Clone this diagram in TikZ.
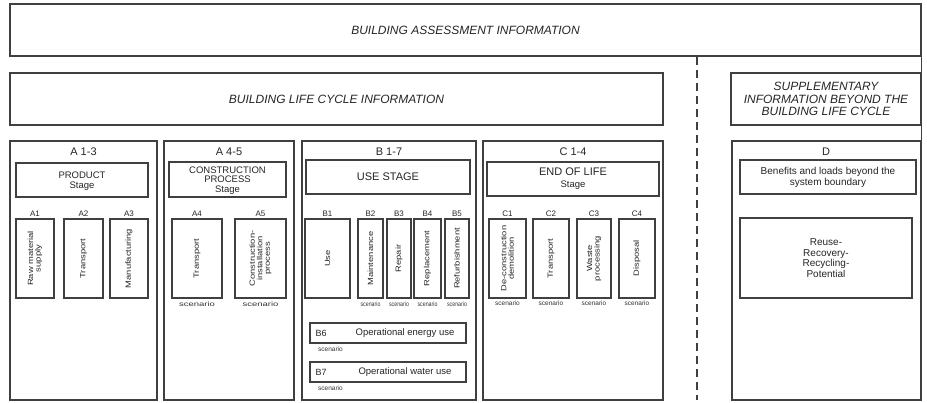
\documentclass[tikz,border=0pt]{standalone}
\usepackage{fontspec}
\usepackage{graphicx}
\setmainfont{Liberation Sans}
\newfontfamily\rotfont[FakeStretch=1.25]{Liberation Sans}
\newcommand\fs[1]{\fontsize{#1}{#1}\selectfont}
\newcommand\bx[7]{\node[#6, minimum width={(#4-#2)*1pt}, minimum height={(#5-#3)*1pt}] (#1) at ({(#2+#4)/2},{(#3+#5)/2}) {#7};}
\newcommand\scen[1]{\scalebox{#1}[1.3]{scenario}}
\begin{document}
\begin{tikzpicture}[x=1pt,y=-1pt,
  box/.style={draw=black!75, line width=1.1pt, inner sep=0pt, align=center, text=black!85},
  outerbox/.style={box},
  stagebox/.style={box, font=\fs{9.5}, text depth=0pt},
  smallbox/.style={box},
  rottext/.style={rotate=90, font=\rotfont\fs{7.5}, align=center, inner sep=0pt, text=black!85},
  hdr/.style={font=\fs{11}, inner sep=0pt, text=black!85},
  lbl/.style={font=\fs{8}, inner sep=0pt, anchor=base, text=black!85},
  sc/.style={font=\fs{5}, inner sep=0pt, text=black!80},
  dashline/.style={draw=black!75, line width=1.1pt, dash pattern=on 8pt off 5pt},
  plainline/.style={draw=black!75, line width=1.1pt}]
\useasboundingbox[fill=white] (0,0) rectangle (927,402);

% top rows
\bx{top}{10}{4}{921}{56}{box, font=\fs{12}\itshape}{BUILDING ASSESSMENT INFORMATION}
\bx{life}{10}{73}{663}{125}{box, font=\fs{12}\itshape}{BUILDING LIFE CYCLE INFORMATION}
\bx{supp}{731}{73}{921}{125}{box, font={\fontsize{12}{12.6}\selectfont\itshape}}{SUPPLEMENTARY\\INFORMATION BEYOND THE\\BUILDING LIFE CYCLE}

% columns
\bx{A13}{10}{141}{157}{400}{outerbox}{}
\bx{A45}{164}{141}{294}{400}{outerbox}{}
\bx{B17}{302}{141}{476}{400}{outerbox}{}
\bx{C14}{483}{141}{663}{400}{outerbox}{}
\bx{D}{732}{141}{921}{400}{outerbox}{}

\coordinate (dtop) at (697,57);
\coordinate (dbot) at (697,400);
\draw[dashline] (dtop) -- (dbot);
\draw[plainline] (top.south east) -- (D.north east);

% headers
\node[hdr] (hA13) at (83.5,152) {A 1-3};
\node[hdr] (hA45) at (229,152) {A 4-5};
\node[hdr] (hB17) at (389,152) {B 1-7};
\node[hdr] (hC14) at (573,152) {C 1-4};
\node[hdr] (hD) at (826,152) {D};

% stage boxes
\bx{prod}{16}{163}{148}{197}{stagebox}{PRODUCT\\Stage}
\bx{cons}{169}{162}{286}{197}{stagebox}{CONSTRUCTION\\PROCESS\\Stage}
\bx{use}{306}{160}{470}{194}{box, font=\fs{11}}{USE STAGE}
\bx{eol}{487}{162}{659}{196}{box, font=\fontsize{11}{12}\selectfont}{END OF LIFE\\{\fs{9.5}Stage}}
\bx{ben}{740}{160}{916}{194}{box, font=\fontsize{10}{11}\selectfont}{Benefits and loads beyond the\\system boundary}
\bx{reuse}{740}{218}{912}{298}{box, font=\fontsize{10}{10.5}\selectfont}{Reuse-\\Recovery-\\Recycling-\\Potential}

% module boxes
\bx{a1}{16}{219}{54}{298}{smallbox}{}
\bx{a2}{64}{219}{103}{298}{smallbox}{}
\bx{a3}{110}{219}{148}{298}{smallbox}{}
\bx{a4}{172}{219}{222}{298}{smallbox}{}
\bx{a5}{235}{219}{286}{298}{smallbox}{}
\bx{b1}{305}{219}{350}{298}{smallbox}{}
\bx{b2}{358}{219}{383}{298}{smallbox}{}
\bx{b3}{387}{219}{411}{298}{smallbox}{}
\bx{b4}{414}{219}{441}{298}{smallbox}{}
\bx{b5}{445}{219}{469}{298}{smallbox}{}
\bx{c1}{489}{219}{526}{298}{smallbox}{}
\bx{c2}{533}{219}{569}{298}{smallbox}{}
\bx{c3}{577}{219}{611}{298}{smallbox}{}
\bx{c4}{619}{219}{655}{298}{smallbox}{}

% rotated texts
\node[rottext] (ta1) at (a1) {Raw material\\supply};
\node[rottext] (ta2) at (a2) {Transport};
\node[rottext] (ta3) at (a3) {Manufacturing};
\node[rottext] (ta4) at (a4) {Transport};
\node[rottext] (ta5) at (a5) {Construction-\\installation\\process};
\node[rottext] (tb1) at (b1) {Use};
\node[rottext] (tb2) at (b2) {Maintenance};
\node[rottext] (tb3) at (b3) {Repair};
\node[rottext] (tb4) at (b4) {Replacement};
\node[rottext] (tb5) at (b5) {Refurbishment};
\node[rottext] (tc1) at (c1) {De-construction\\demolition};
\node[rottext] (tc2) at (c2) {Transport};
\node[rottext] (tc3) at (c3) {Waste\\processing};
\node[rottext] (tc4) at (c4) {Disposal};

% module labels
\foreach \n/\t in {a1/A1,a2/A2,a3/A3,a4/A4,a5/A5,b1/B1,b2/B2,b3/B3,b4/B4,b5/B5,c1/C1,c2/C2,c3/C3,c4/C4}
  \node[lbl] (l\n) at ([yshift=2pt]\n.north) {\t};

% scenario labels
\node[sc] (sa4) at ([yshift=-5.5pt]a4.south) {\scen{1.9}};
\node[sc] (sa5) at ([yshift=-5.5pt]a5.south) {\scen{1.9}};
\node[sc] (sb2) at ([yshift=-5.5pt]b2.south) {\scen{1.05}};
\node[sc] (sb3) at ([yshift=-5.5pt]b3.south) {\scen{1.05}};
\node[sc] (sb4) at ([yshift=-5.5pt]b4.south) {\scen{1.05}};
\node[sc] (sb5) at ([yshift=-5.5pt]b5.south) {\scen{1.05}};
\node[sc] (sc1) at ([yshift=-4.5pt]c1.south) {\scen{1.3}};
\node[sc] (sc2) at ([yshift=-4.5pt]c2.south) {\scen{1.3}};
\node[sc] (sc3) at ([yshift=-4.5pt]c3.south) {\scen{1.3}};
\node[sc] (sc4) at ([yshift=-4.5pt]c4.south) {\scen{1.3}};

% B6 / B7
\bx{b6}{310}{323}{466}{343}{smallbox}{}
\bx{b7}{310}{362}{466}{382}{smallbox}{}
\node[font=\fs{9}, anchor=west, inner sep=0pt, text=black!85] (lb6) at ([xshift=6pt]b6.west) {B6};
\node[font=\fs{9.5}, inner sep=0pt, text=black!85] (tb6) at (405,333) {Operational energy use};
\node[font=\fs{9}, anchor=west, inner sep=0pt, text=black!85] (lb7) at ([xshift=6pt]b7.west) {B7};
\node[font=\fs{9.5}, inner sep=0pt, text=black!85] (tb7) at (405,372) {Operational water use};
\node[sc, anchor=west] (sb6) at (318,349) {\scen{1.3}};
\node[sc, anchor=west] (sb7) at (318,388) {\scen{1.3}};
\end{tikzpicture}
\end{document}
